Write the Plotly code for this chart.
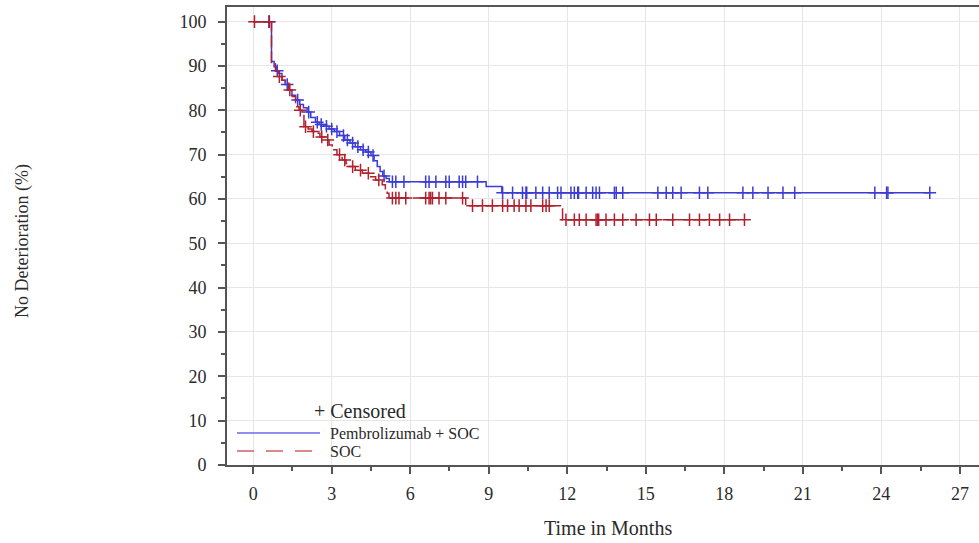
import numpy as np
import plotly.graph_objects as go

# Kaplan-Meier step points (months, % with no deterioration)
pembro_times = [0, 0.70, 0.80, 0.88, 0.98, 1.10, 1.22, 1.35, 1.48, 1.62, 1.78, 1.92, 2.06,
                2.20, 2.38, 2.52, 2.70, 2.90, 3.10, 3.30, 3.50, 3.70, 3.90, 4.10, 4.30,
                4.50, 4.62, 4.74, 4.85, 4.95, 5.08, 5.20, 8.90, 9.50]
pembro_surv = [100, 91.0, 89.8, 88.9, 88.3, 86.8, 85.8, 84.6, 83.4, 82.3, 81.3, 80.6, 79.6,
               78.4, 77.3, 76.8, 76.4, 75.8, 75.2, 74.3, 73.3, 72.6, 71.8, 71.1, 70.6,
               69.8, 68.6, 67.3, 66.2, 65.2, 64.6, 63.9, 62.8, 61.4]
pembro_end = 25.85

soc_times = [0, 0.70, 0.85, 0.98, 1.10, 1.23, 1.36, 1.49, 1.62, 1.75, 1.87, 1.94, 2.10,
             2.25, 2.38, 2.55, 2.77, 2.90, 3.02, 3.20, 3.40, 3.55, 3.66, 3.90, 4.17,
             4.45, 4.68, 4.93, 5.05, 5.12, 5.19, 8.12, 11.82]
soc_surv = [100, 90.5, 88.8, 87.6, 86.8, 86.1, 84.6, 83.1, 80.8, 80.0, 79.3, 76.3, 75.8,
            75.2, 74.8, 74.0, 73.3, 72.2, 71.1, 70.0, 68.8, 68.0, 67.3, 66.5, 65.8,
            65.0, 64.3, 63.2, 62.3, 61.3, 60.2, 58.5, 55.3]
soc_end = 18.80

# Censoring times (months)
pembro_censored = [0.62, 0.92, 1.30, 1.70, 2.12, 2.45, 2.60, 2.80, 3.00, 3.20, 3.45, 3.60,
                   3.80, 4.00, 4.20, 4.40, 4.58, 5.00, 5.32, 5.45, 5.76, 6.59, 6.72, 6.98,
                   7.36, 7.49, 7.87, 8.00, 8.12, 8.57, 9.53, 9.91, 10.29, 10.42, 10.45,
                   10.80, 11.06, 11.31, 11.63, 11.76, 12.14, 12.27, 12.40, 12.43, 12.72,
                   12.97, 13.10, 13.23, 13.80, 13.87, 14.12, 15.46, 15.78, 16.03, 16.35,
                   17.05, 17.37, 18.71, 19.09, 19.67, 20.24, 20.69, 23.75, 24.20, 24.25,
                   25.85]
soc_censored = [0.05, 0.60, 1.00, 1.40, 1.80, 2.00, 2.30, 2.62, 2.85, 3.30, 3.50, 3.80,
                4.10, 4.40, 4.80, 5.32, 5.45, 5.57, 5.83, 6.59, 6.72, 6.78, 6.85, 7.10,
                7.36, 8.00, 8.38, 8.76, 9.14, 9.53, 9.72, 9.97, 10.16, 10.42, 10.61,
                11.06, 11.19, 11.31, 11.95, 12.27, 12.46, 12.72, 13.10, 13.16, 13.20,
                13.48, 13.80, 14.12, 14.63, 15.14, 15.40, 16.03, 16.67, 17.05, 17.43,
                17.82, 18.20, 18.77]

x_ticks = [0, 3, 6, 9, 12, 15, 18, 21, 24, 27]
y_ticks = [0, 10, 20, 30, 40, 50, 60, 70, 80, 90, 100]

BLUE = "#3b3bd6"
RED = "#b0202e"
SERIF = "Liberation Serif, Times New Roman, serif"
TEXT = "#2a2a2a"


def step_value(times, surv, t):
    idx = np.searchsorted(np.asarray(times), np.asarray(t), side="right") - 1
    return np.asarray(surv)[idx]


def curve(times, surv, end):
    return list(times) + [end], list(surv) + [surv[-1]]


fig = go.Figure()

for times, surv, end, cens, color, dash in [
    (pembro_times, pembro_surv, pembro_end, pembro_censored, BLUE, "solid"),
    (soc_times, soc_surv, soc_end, soc_censored, RED, "12px,4px"),
]:
    cx, cy = curve(times, surv, end)
    fig.add_trace(go.Scatter(x=cx, y=cy, mode="lines", line_shape="hv",
                             line=dict(color=color, width=1.5, dash=dash),
                             showlegend=False, hoverinfo="skip"))
    fig.add_trace(go.Scatter(x=cens, y=step_value(times, surv, cens), mode="markers",
                             marker=dict(symbol="cross-thin", size=9,
                                         line=dict(color=color, width=1.5)),
                             showlegend=False, hoverinfo="skip"))

L, R, T, B = 227, 0, 7, 78
W, H = 979, 543
pw, ph = W - L - R, H - T - B


def px(xp):
    return (xp - L) / pw


def py(yp):
    return (H - B - yp) / ph


# Legend drawn inside the plot, lower left
shapes = [
    dict(type="line", xref="paper", yref="paper", x0=px(237), x1=px(320), y0=py(433), y1=py(433),
         line=dict(color="#6a6ae6", width=1.5)),
    dict(type="line", xref="paper", yref="paper", x0=px(237), x1=px(313), y0=py(451), y1=py(451),
         line=dict(color="#d0606a", width=1.5, dash="17px,12px")),
]
annotations = [
    dict(x=px(312), y=py(411), xref="paper", yref="paper", text="+ Censored", showarrow=False,
         xanchor="left", yanchor="middle", font=dict(family=SERIF, size=20, color=TEXT)),
    dict(x=px(328), y=py(433), xref="paper", yref="paper", text="Pembrolizumab + SOC",
         showarrow=False, xanchor="left", yanchor="middle",
         font=dict(family=SERIF, size=16, color=TEXT)),
    dict(x=px(328), y=py(451), xref="paper", yref="paper", text="SOC", showarrow=False,
         xanchor="left", yanchor="middle", font=dict(family=SERIF, size=16, color=TEXT)),
    dict(x=px(22), y=py(241), xref="paper", yref="paper", text="No Deterioration (%)",
         showarrow=False, textangle=-90, xanchor="center", yanchor="middle",
         font=dict(family=SERIF, size=18, color=TEXT)),
    dict(x=px(608), y=py(528), xref="paper", yref="paper", text="Time in Months",
         showarrow=False, xanchor="center", yanchor="middle",
         font=dict(family=SERIF, size=20, color=TEXT)),
]

fig.update_layout(
    width=W, height=H,
    margin=dict(l=L, r=R, t=T, b=B, pad=0),
    paper_bgcolor="white", plot_bgcolor="white",
    shapes=shapes, annotations=annotations,
    font=dict(family=SERIF, color=TEXT),
)
fig.update_xaxes(
    range=[-1.0, 27.73], tickvals=x_ticks, ticktext=[str(v) for v in x_ticks],
    showgrid=True, gridcolor="#e6e6e6", gridwidth=1, zeroline=False,
    showline=True, linecolor="#555", linewidth=2, mirror=True,
    ticks="outside", ticklen=7, tickwidth=1.5, tickcolor="#555",
    minor=dict(dtick=1.5, tick0=0, ticks="outside", ticklen=4, tickwidth=1.5,
               tickcolor="#555", showgrid=False),
    tickfont=dict(family=SERIF, size=18, color=TEXT), ticklabelstandoff=4,
)
fig.update_yaxes(
    range=[0, 103.3], tickvals=y_ticks, ticktext=[str(v) for v in y_ticks],
    showgrid=True, gridcolor="#e6e6e6", gridwidth=1, zeroline=False,
    showline=True, linecolor="#555", linewidth=2, mirror=False,
    ticks="outside", ticklen=7, tickwidth=1.5, tickcolor="#555",
    minor=dict(dtick=5, tick0=0, ticks="outside", ticklen=4, tickwidth=1.5,
               tickcolor="#555", showgrid=False),
    tickfont=dict(family=SERIF, size=18, color=TEXT), ticklabelstandoff=8,
)

fig.write_html("out.html")
